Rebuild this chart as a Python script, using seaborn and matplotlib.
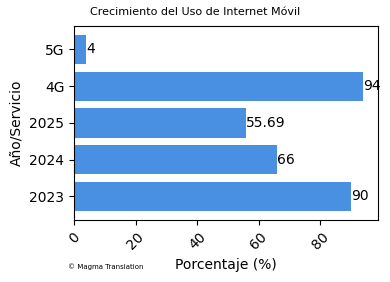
import matplotlib
matplotlib.use("Agg")
import matplotlib.pyplot as plt
import seaborn as sns
import pandas as pd

categories = ["5G", "4G", "2025", "2024", "2023"]
values = [4, 94, 55.69, 66, 90]
labels = ["4", "94", "55.69", "66", "90"]

plt.rcParams['font.family'] = ['DejaVu Sans']

df = pd.DataFrame({"cat": categories, "val": values})
fig, ax = plt.subplots(figsize=(3.9, 2.82), dpi=100)
sns.barplot(data=df, y="cat", x="val", orient="h", color="#4a90e2", saturation=1,
            width=0.8, linewidth=0, ax=ax)
for p, lab in zip(ax.patches, labels):
    ax.text(p.get_width(), p.get_y() + p.get_height() / 2, lab, va="center", ha="left", fontsize=10)
lo = min(p.get_y() for p in ax.patches)
hi = max(p.get_y() + p.get_height() for p in ax.patches)
m = 0.05 * (hi - lo)
ax.set_ylim(hi + m, lo - m)
ax.set_xlabel("Porcentaje (%)", fontsize=10)
ax.set_ylabel("Año/Servicio", fontsize=10)
ax.tick_params(axis="x", rotation=45, labelsize=10)
ax.tick_params(axis="y", labelsize=10)
fig.suptitle("Crecimiento del Uso de Internet Móvil", fontsize=8, y=0.975)
fig.text(0.175, 0.045, "© Magma Translation", fontsize=5)
fig.subplots_adjust(left=0.19, right=0.969, top=0.908, bottom=0.22)
fig.savefig("out.png", dpi=100)
